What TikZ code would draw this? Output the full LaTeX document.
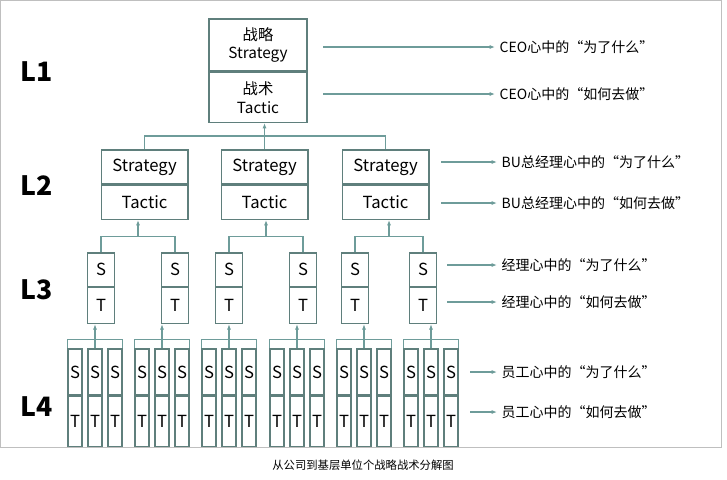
\documentclass[tikz,border=0pt]{standalone}
\usepackage{fontspec}
\setmainfont{Noto Sans CJK SC}
\usetikzlibrary{arrows.meta,positioning,calc}
\definecolor{teal}{HTML}{6E9C9A}
\definecolor{boxline}{HTML}{5F7F7C}

\begin{document}
\begin{tikzpicture}[x=0.75pt,y=-0.75pt,
    half/.style={draw=boxline, line width=1pt, inner sep=0pt, align=center, font=\fontsize{12.5}{13}\selectfont},
    link/.style={teal, line width=0.8pt},
    up/.style={link, -{Latex[length=4pt,width=3pt]}},
    note/.style={anchor=west, font=\fontsize{10.5}{12}\selectfont}]
        \useasboundingbox (0,0) rectangle (727,479);
        \draw[gray!50] (0,0) rectangle (721,447);
        \node[font=\fontsize{8.5}{10}\selectfont] (caption) at (363,465) {从公司到基层单位个战略战术分解图};

        % level labels
        \foreach \lv/\y in {1/72, 2/186, 3/290, 4/407}
            \node[font=\bfseries\fontsize{20}{22}\selectfont] (L\lv) at (37,\y) {L\lv};

        % L1
        \node[half, minimum width=73.5pt, minimum height=39pt, font=\fontsize{11.5}{14}\selectfont] (top-s) at (258,45) {战略\\Strategy};
        \node[half, minimum width=73.5pt, minimum height=37.5pt, font=\fontsize{11.5}{14}\selectfont, below=0pt of top-s] (top-t) {战术\\Tactic};

        % L2
        \foreach \i/\x in {1/144.5, 2/264.5, 3/385.5} {
            \node[half, minimum width=65pt, minimum height=25.5pt] (bu\i-s) at (\x,167) {Strategy};
            \node[half, minimum width=65pt, minimum height=25.5pt, below=0pt of bu\i-s] (bu\i-t) {Tactic};
        }

        % L3
        \foreach \i/\x in {1/101, 2/175, 3/229, 4/303, 5/355, 6/423} {
            \node[half, minimum width=20pt, minimum height=25pt] (mg\i-s) at (\x,269.5) {S};
            \node[half, minimum width=20pt, minimum height=27pt, below=0pt of mg\i-s] (mg\i-t) {T};
        }

        % L4
        \foreach \g/\x in {1/68, 2/135, 3/202, 4/270, 5/337, 6/404}
            \foreach \k in {1,2,3} {
                \node[half, minimum width=10.5pt, minimum height=34.5pt] (st\g\k-s) at (\x+\k*20-13,372) {S};
                \node[half, minimum width=10.5pt, minimum height=37.5pt, below=0pt of st\g\k-s] (st\g\k-t) {T};
            }

        % L2 -> L1
        \coordinate (b1) at (264.5,136);
        \draw[link] (bu1-s.north) |- (b1) -| (bu3-s.north);
        \draw[link] (bu2-s.north) -- (b1);
        \draw[up] (b1) -- (b1 |- top-t.south);

        % L3 -> L2
        \foreach \a/\b/\p in {1/2/1, 3/4/2, 5/6/3} {
            \coordinate (m\p) at ($(mg\a-s.north)!0.5!(mg\b-s.north)+(0,-16)$);
            \draw[link] (mg\a-s.north) |- (m\p) -| (mg\b-s.north);
            \draw[up] (m\p) -- (m\p |- bu\p-t.south);
        }

        % L4 -> L3
        \foreach \g in {1,...,6} {
            \coordinate (s\g) at ($(st\g2-s.north)+(0,-9)$);
            \draw[link] (st\g1-s.north west) |- (s\g) -| (st\g3-s.north east);
            \draw[up] (st\g2-s.north) -- (st\g2-s.north |- mg\g-t.south);
        }

        % notes
        \foreach \n/\xa/\xb/\y/\txt in {
            c1/323/495/47/CEO心中的“为了什么”, c2/323/495/94/CEO心中的“如何去做”,
            b1/441/497/162/BU总经理心中的“为了什么”, b2/441/497/203/BU总经理心中的“如何去做”,
            m1/447/497/265/经理心中的“为了什么”, m2/447/497/302/经理心中的“如何去做”,
            e1/470/497/372/员工心中的“为了什么”, e2/470/497/412/员工心中的“如何去做”} {
            \coordinate (from-\n) at (\xa,\y);
            \node[note] (note-\n) at (\xb,\y) {\txt};
            \draw[link, -{Latex[length=4pt,width=3pt]}] (from-\n) -- (note-\n.west);
        }
    \end{tikzpicture}
\end{document}
